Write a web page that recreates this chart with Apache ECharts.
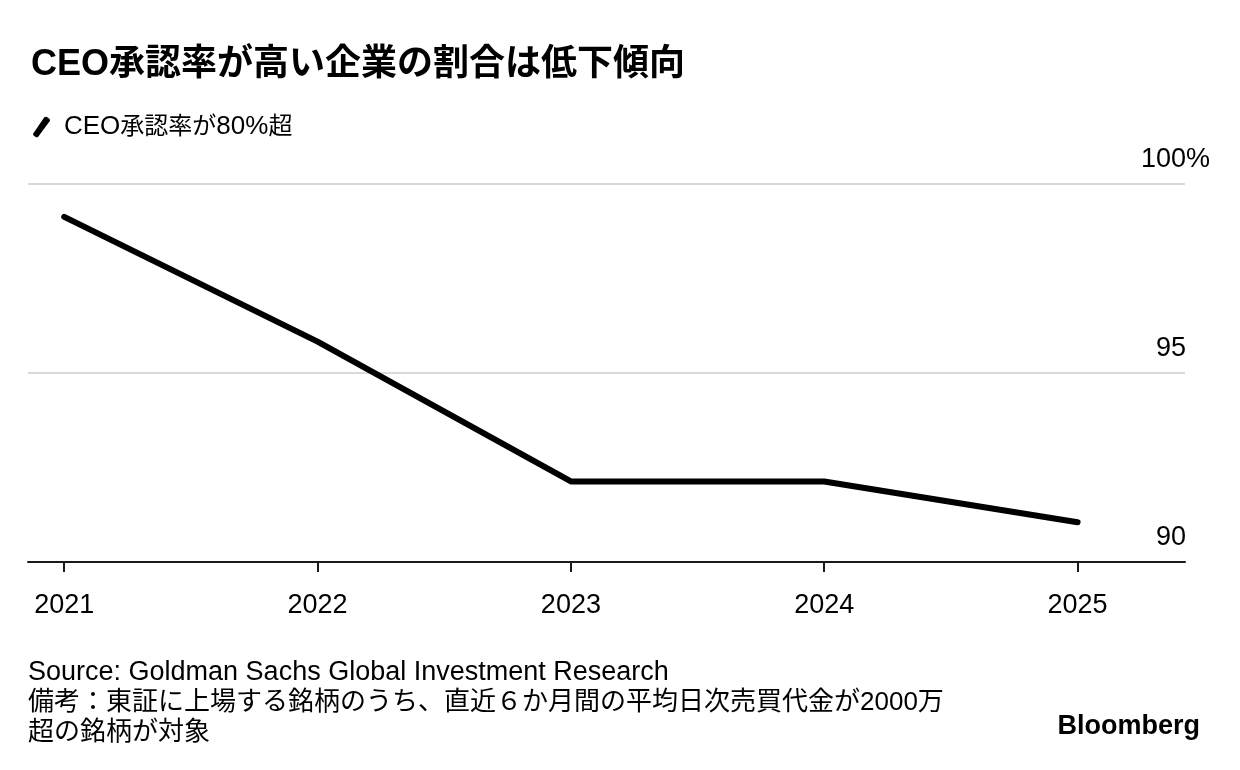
<!DOCTYPE html>
<html>
<head>
<meta charset="utf-8">
<script src="https://cdn.jsdelivr.net/npm/echarts@6/dist/echarts.min.js"></script>
<style>
html,body{margin:0;padding:0;background:#fff;}
#main{width:1240px;height:770px;}
</style>
</head>
<body>
<div id="main"></div>
<script>
const years = [2021, 2022, 2023, 2024, 2025];
const approvalOver80 = [99.13, 95.83, 92.13, 92.13, 91.05];
const yTicks = [90, 95, 100];
const seriesName = 'CEO承認率が80%超';
const titleText = 'CEO承認率が高い企業の割合は低下傾向';
const sourceLines = [
  'Source: Goldman Sachs Global Investment Research',
  '備考：東証に上場する銘柄のうち、直近６か月間の平均日次売買代金が2000万',
  '超の銘柄が対象'
];

const FONT = '"Liberation Sans", Arial, "Noto Sans CJK JP", sans-serif';
const chart = echarts.init(document.getElementById('main'), null, {renderer: 'canvas'});

// split text into latin / cjk runs for rich text styling
function richRuns(str, latinKey, cjkKey) {
  const parts = str.match(/[\x00-\x7F]+|[^\x00-\x7F]+/g) || [];
  return parts.map(p => '{' + (/^[\x00-\x7F]/.test(p) ? latinKey : cjkKey) + '|' + p + '}').join('');
}

const option = {
  backgroundColor: '#ffffff',
  animation: false,
  title: {
    text: titleText,
    left: 26,
    top: 42,
    textStyle: {fontFamily: FONT, fontSize: 36, fontWeight: 'bold', color: '#000'}
  },
  legend: {
    left: 28,
    top: 109,
    data: [seriesName],
    icon: 'path://M0,17 L11,1 Q12,0 13.5,0.6 L16,2.4 Q17,3.5 16.2,4.8 L5,20 Q4,21 2.5,20.3 L0.8,19 Q-0.3,18 0,17 Z',
    itemWidth: 17,
    itemHeight: 21,
    formatter: name => richRuns(name, 'l', 'c'),
    textStyle: {
      fontFamily: FONT, fontSize: 24, color: '#000', padding: [0, 0, 0, 9],
      rich: {
        l: {fontFamily: FONT, fontSize: 26, color: '#000'},
        c: {fontFamily: FONT, fontSize: 24, color: '#000'}
      }
    }
  },
  grid: {left: 28, right: 55, top: 184, bottom: 208, containLabel: false},
  xAxis: {
    type: 'value',
    min: 2020.857,
    max: 2025.424,
    axisLine: {show: true, lineStyle: {color: '#1a1a1a', width: 2}},
    axisTick: {show: true, customValues: years, length: 10, lineStyle: {color: '#1a1a1a', width: 2}},
    axisLabel: {
      customValues: years,
      formatter: v => String(v),
      fontFamily: FONT, fontSize: 27, color: '#000', margin: 30
    },
    splitLine: {show: false}
  },
  yAxis: {
    type: 'value',
    position: 'right',
    min: 90,
    max: 100,
    interval: 5,
    axisLine: {show: false},
    axisTick: {show: false},
    splitLine: {show: true, lineStyle: {color: '#d9d9d9', width: 2}},
    axisLabel: {
      inside: true,
      margin: -25,
      align: 'right',
      verticalAlign: 'bottom',
      padding: [0, 0, 11, 0],
      formatter: v => v === 100 ? '{n|' + v + '}{p|%}' : '{n|' + v + '}{h|%}',
      rich: {
        n: {fontFamily: FONT, fontSize: 27, color: '#000'},
        p: {fontFamily: FONT, fontSize: 27, color: '#000'},
        h: {fontFamily: FONT, fontSize: 27, color: 'rgba(0,0,0,0)'}
      }
    }
  },
  series: [{
    name: seriesName,
    type: 'line',
    data: years.map((y, i) => [y, approvalOver80[i]]),
    showSymbol: false,
    symbol: 'none',
    color: '#000',
    lineStyle: {color: '#000', width: 6, cap: 'round', join: 'round'},
    itemStyle: {color: '#000'}
  }],
  graphic: [
    {
      type: 'text', left: 28, top: 658,
      style: {
        text: '{s|' + sourceLines[0] + '}\n{j|' + sourceLines[1] + '}\n{j|' + sourceLines[2] + '}',
        fontFamily: FONT, fontSize: 26, lineHeight: 30, fill: '#000',
        rich: {
          s: {fontFamily: FONT, fontSize: 27, lineHeight: 30, fill: '#000'},
          j: {fontFamily: FONT, fontSize: 26, lineHeight: 30, fill: '#000'}
        }
      }
    },
    {
      type: 'text', right: 40, top: 713,
      style: {text: 'Bloomberg', fontFamily: FONT, fontSize: 27, fontWeight: 'bold', fill: '#000'}
    }
  ]
};
chart.setOption(option);
</script>
</body>
</html>
